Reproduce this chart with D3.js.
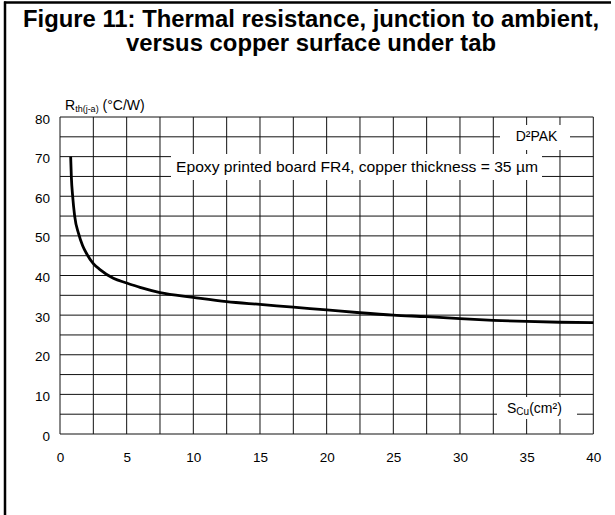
<!DOCTYPE html>
<html>
<head>
<meta charset="utf-8">
<script src="https://cdn.jsdelivr.net/npm/d3@7"></script>
<style>
  html, body { margin: 0; padding: 0; background: #fff; }
  svg { display: block; font-family: "Liberation Sans", Arial, sans-serif; }
</style>
</head>
<body>
<svg id="chart" width="615" height="515"></svg>
<script>
// ---- data ----
const titleLines = ["Figure 11: Thermal resistance, junction to ambient,", "versus copper surface under tab"];
const xTicks = [0, 5, 10, 15, 20, 25, 30, 35, 40];
const yTicks = [0, 10, 20, 30, 40, 50, 60, 70, 80];
const xGrid = [0, 2.5, 5, 7.5, 10, 12.5, 15, 17.5, 20, 22.5, 25, 27.5, 30, 32.5, 35, 37.5, 40];
const yGrid = [0, 5, 10, 15, 20, 25, 30, 35, 40, 45, 50, 55, 60, 65, 70, 75, 80];
const surface = [0.8, 0.85, 0.95, 1.1, 1.4, 1.7, 2, 2.5, 3, 4, 5, 6, 7.5, 10, 12.5, 15, 17.5, 20, 22.5, 25, 27.5, 30, 32.5, 35, 37.5, 40];
const rth = [70, 65, 60, 55, 50.5, 47.5, 45.5, 43, 41.5, 39.3, 38.1, 37, 35.7, 34.5, 33.4, 32.7, 32, 31.3, 30.6, 30, 29.6, 29.1, 28.7, 28.4, 28.2, 28.1];
const annotation = "Epoxy printed board FR4, copper thickness = 35 µm";
const packageLabel = "D²PAK";

// ---- drawing ----
const svg = d3.select("#chart");
const x = d3.scaleLinear().domain([0, 40]).range([60, 593.3]);
const y = d3.scaleLinear().domain([0, 80]).range([434, 117]);

// frame (top and left only)
svg.append("line").attr("x1", 4).attr("x2", 611).attr("y1", 2.5).attr("y2", 2.5)
  .attr("stroke", "#000").attr("stroke-width", 2.5);
svg.append("line").attr("x1", 5).attr("x2", 5).attr("y1", 1.5).attr("y2", 515)
  .attr("stroke", "#000").attr("stroke-width", 2.5);

// title
const title = svg.append("g");
title.selectAll("text").data(titleLines).join("text")
  .attr("x", 311)
  .attr("y", (d, i) => 27 + i * 24)
  .attr("text-anchor", "middle")
  .attr("font-size", 23)
  .attr("font-weight", "bold")
  .attr("fill", "#000")
  .attr("textLength", (d, i) => i === 0 ? 576 : 370)
  .attr("lengthAdjust", "spacingAndGlyphs")
  .text(d => d);

// grid
const grid = svg.append("g").attr("stroke", "#111").attr("stroke-width", 1);
grid.selectAll(".vg").data(xGrid).join("line").attr("class", "vg")
  .attr("x1", d => x(d)).attr("x2", d => x(d))
  .attr("y1", y(0)).attr("y2", y(80));
grid.selectAll(".hg").data(yGrid).join("line").attr("class", "hg")
  .attr("y1", d => y(d)).attr("y2", d => y(d))
  .attr("x1", x(0)).attr("x2", x(40));

// axes tick labels via d3 axes
const xAxis = d3.axisBottom(x).tickValues(xTicks).tickSize(0).tickPadding(0).tickFormat(d3.format("d"));
const gx = svg.append("g").attr("transform", `translate(0,${y(0) + 28})`).call(xAxis);
gx.select(".domain").remove();
gx.selectAll("text").attr("font-size", 13.5).attr("font-family", "Liberation Sans, Arial, sans-serif")
  .attr("fill", "#000").attr("dy", 0).attr("y", 0);

const yAxis = d3.axisLeft(y).tickValues(yTicks).tickSize(0).tickPadding(0).tickFormat(d3.format("d"));
const gy = svg.append("g").attr("transform", `translate(50,0)`).call(yAxis);
gy.select(".domain").remove();
gy.selectAll("text").attr("font-size", 13.5).attr("font-family", "Liberation Sans, Arial, sans-serif")
  .attr("fill", "#000").attr("dy", 0).attr("y", 6).attr("x", 0);

// y-axis label
const ylab = svg.append("text").attr("x", 65).attr("y", 110).attr("font-size", 14).attr("fill", "#000");
ylab.append("tspan").text("R");
ylab.append("tspan").attr("font-size", 9).attr("dy", 2).text("th(j-a)");
ylab.append("tspan").attr("dy", -2).text(" (°C/W)");

// annotation boxes
function labelBox(cx, baseline, w, h, topOff) {
  svg.append("rect")
    .attr("x", cx - w / 2).attr("y", baseline - topOff).attr("width", w).attr("height", h)
    .attr("fill", "#fff");
}

// Epoxy annotation
labelBox(356.5, 172, 371, 26, 18);
svg.append("text").attr("x", 176).attr("y", 172).attr("font-size", 15).attr("fill", "#000")
  .attr("textLength", 362).attr("lengthAdjust", "spacingAndGlyphs").text(annotation);

// D2PAK label
labelBox(535, 141, 70, 25, 16);
svg.append("text").attr("x", 536.5).attr("y", 141).attr("text-anchor", "middle")
  .attr("font-size", 14).attr("fill", "#000").text(packageLabel);

// SCu label
labelBox(537, 413, 80, 22, 16);
const xl = svg.append("text").attr("x", 507).attr("y", 413).attr("font-size", 14).attr("fill", "#000");
xl.append("tspan").text("S");
xl.append("tspan").attr("font-size", 10).attr("dy", 1.5).text("Cu");
xl.append("tspan").attr("dy", -1.5).text("(cm²)");

// curve
const pts = surface.map((s, i) => [s, rth[i]]);
svg.append("path")
  .datum(pts)
  .attr("fill", "none")
  .attr("stroke", "#000")
  .attr("stroke-width", 2.8)
  .attr("d", d3.line().x(d => x(d[0])).y(d => y(d[1])).curve(d3.curveMonotoneX));
</script>
</body>
</html>
